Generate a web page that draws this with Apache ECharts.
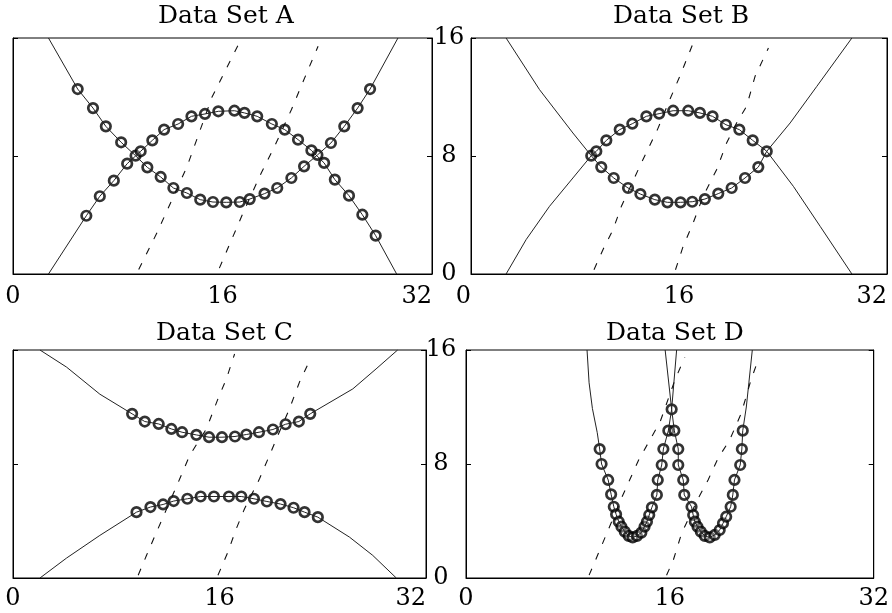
<!DOCTYPE html>
<html>
<head>
<meta charset="utf-8">
<title>Data Sets A-D</title>
<script src="https://cdn.jsdelivr.net/npm/echarts@6/dist/echarts.min.js"></script>
<style>
    html, body { margin: 0; padding: 0; background: #fff; }
    #chart { width: 892px; height: 613px; }
</style>
</head>
<body>
<div id="chart"></div>
<script>
    // axis ticks (same for all four panels)
    var xTicks = [0, 16, 32];
    var yTicks = [0, 8, 16];
    var panelTitles = ['Data Set A', 'Data Set B', 'Data Set C', 'Data Set D'];

    // Data Set A
    var aCircles1 = [[4.94, 12.54], [6.11, 11.25], [7.09, 10.01], [8.26, 8.93], [9.36, 8.02], [10.26, 7.23], [11.28, 6.58],
        [12.25, 5.83], [13.28, 5.49], [14.30, 5.04], [15.27, 4.88], [16.29, 4.86], [17.32, 4.88], [18.08, 5.08],
        [19.21, 5.45], [20.18, 5.83], [21.26, 6.51], [22.23, 7.30], [23.25, 8.07], [24.28, 8.88], [25.30, 10.01],
        [26.32, 11.25], [27.27, 12.54]];
    var aCircles2 = [[5.60, 3.95], [6.63, 5.27], [7.70, 6.33], [8.72, 7.48], [9.75, 8.32], [10.64, 9.06], [11.54, 9.79],
        [12.61, 10.17], [13.63, 10.69], [14.66, 10.85], [15.68, 11.03], [16.91, 11.07], [17.68, 10.92], [18.65, 10.69],
        [19.77, 10.17], [20.75, 9.79], [21.77, 9.11], [22.79, 8.38], [23.76, 7.53], [24.58, 6.40], [25.66, 5.31],
        [26.68, 4.02], [27.70, 2.60]];
    var aLine1Start = [[2.71, 16]];
    var aLine1End = [[29.4, 16]];
    var aLine2Start = [[2.71, 0]];
    var aLine2End = [[29.3, 0]];
    var aDash1 = [[9.6, 0.3], [11.0, 2.8], [13.3, 7.3], [15.2, 12.0], [17.3, 15.7]];
    var aDash2 = [[15.76, 0.4], [17.68, 4.36], [18.96, 6.85], [19.98, 8.66], [21.26, 11.14], [22.54, 13.86], [23.3, 15.44]];

    // Data Set B
    var bCirclesUp = [[9.25, 8.02], [9.64, 8.32], [10.41, 9.06], [11.44, 9.79], [12.41, 10.19], [13.49, 10.69], [14.47, 10.87],
        [15.55, 11.07], [16.71, 11.07], [17.61, 10.92], [18.58, 10.69], [19.61, 10.12], [20.64, 9.79], [21.67, 9.06],
        [22.75, 8.32]];
    var bCirclesLow = [[10.02, 7.25], [10.98, 6.51], [12.08, 5.83], [13.03, 5.42], [14.14, 5.04], [15.11, 4.86], [16.12, 4.86],
        [17.02, 4.90], [17.99, 5.08], [19.02, 5.45], [20.05, 5.83], [21.08, 6.51], [22.10, 7.25]];
    var bOuterTopLeft = [[2.70, 16], [5.27, 12.5], [7.84, 9.56], [9.25, 8.02]];
    var bOuterBottomLeft = [[2.70, 0], [4.24, 2.33], [6.04, 4.59], [7.84, 6.51], [9.25, 8.02]];
    var bOuterTopRight = [[22.75, 8.32], [24.55, 10.24], [26.6, 12.72], [29.3, 16]];
    var bOuterBottomRight = [[22.75, 8.32], [24.8, 5.94], [26.86, 3.23], [29.3, 0]];
    var bDash1 = [[9.46, 0.29], [10.15, 1.65], [10.92, 3.0], [11.57, 4.59], [12.98, 7.30], [14.39, 9.89], [15.29, 11.82],
        [16.06, 13.4], [17.09, 15.66]];
    var bDash2 = [[15.73, 0.29], [16.32, 1.88], [17.09, 3.46], [17.86, 5.27], [18.89, 7.07], [19.66, 8.88], [20.43, 10.24],
        [21.2, 11.37], [21.85, 13.4], [22.88, 15.32]];

    // Data Set C
    var cCirclesUp = [[9.23, 11.52], [10.21, 10.98], [11.29, 10.81], [12.27, 10.46], [13.10, 10.23], [14.21, 10.04], [15.19, 9.88],
        [16.19, 9.88], [17.20, 9.93], [18.08, 10.07], [19.06, 10.23], [20.14, 10.42], [21.12, 10.79], [22.15, 10.98],
        [23.03, 11.52]];
    var cCirclesLow = [[9.57, 4.62], [10.65, 4.98], [11.63, 5.16], [12.45, 5.40], [13.51, 5.56], [14.54, 5.72], [15.57, 5.72],
        [16.73, 5.72], [17.69, 5.72], [18.67, 5.56], [19.67, 5.37], [20.73, 5.19], [21.74, 4.93], [22.59, 4.62],
        [23.62, 4.27]];
    var cUpStart = [[2.09, 16], [4.15, 14.8], [6.73, 12.9]];
    var cUpEnd = [[26.33, 13.27], [28.13, 14.67], [29.8, 16]];
    var cLowStart = [[2.09, 0], [4.15, 1.4], [6.73, 2.99]];
    var cLowEnd = [[26.07, 2.87], [27.87, 1.59], [29.7, 0]];
    var cDash1 = [[9.70, 0.19], [10.34, 1.58], [11.12, 3.22], [12.92, 6.96], [13.69, 8.6], [14.98, 10.46], [15.88, 12.57],
        [16.53, 13.97], [17.17, 15.72]];
    var cDash2 = [[15.88, 0.19], [16.65, 1.82], [17.30, 3.46], [17.94, 4.86], [19.10, 6.96], [19.87, 8.60], [20.52, 10.0],
        [21.42, 11.87], [22.19, 13.73], [23.1, 15.49]];

    // Data Set D
    var dCirclesLeft = [[10.49, 9.05], [10.64, 8.00], [11.16, 6.88], [11.39, 5.87], [11.60, 5.00], [11.78, 4.47], [11.99, 3.95],
        [12.20, 3.60], [12.46, 3.25], [12.77, 2.95], [13.08, 2.85], [13.42, 2.95], [13.76, 3.18], [14.01, 3.60],
        [14.20, 3.95], [14.38, 4.42], [14.59, 4.96], [14.98, 5.83], [15.05, 6.88], [15.36, 7.93], [15.49, 9.05],
        [15.88, 10.34]];
    var dPeak = [[16.14, 11.84]];
    var dCirclesRight = [[16.35, 10.34], [16.66, 9.05], [16.66, 7.93], [17.05, 6.88], [17.13, 5.83], [17.70, 5.00], [17.83, 4.42],
        [17.96, 3.95], [18.17, 3.60], [18.43, 3.25], [18.74, 2.95], [19.13, 2.85], [19.52, 3.02], [19.91, 3.37],
        [20.17, 3.84], [20.42, 4.30], [20.77, 5.00], [20.94, 5.83], [21.07, 6.88], [21.52, 7.93], [21.65, 9.05],
        [21.72, 10.34]];
    var dLine1Start = [[9.5, 16], [9.66, 13.7], [9.92, 11.9], [10.3, 10.2]];
    var dLine1Top = [[15.63, 16]];
    var dLine2Top = [[16.53, 16]];
    var dLine2End = [[22.0, 12.0], [22.2, 13.7], [22.47, 16]];
    var dDash1 = [[9.66, 0.2], [10.17, 1.26], [12.25, 5.7], [13.55, 8.28], [15.24, 10.97], [16.4, 13.9], [17.17, 15.5]];
    var dDash2 = [[15.74, 0.19], [16.27, 1.26], [16.92, 3.13], [18.22, 5.59], [19.0, 6.88], [19.78, 8.4], [20.69, 9.68],
        [21.6, 11.55], [22.37, 13.9], [23.0, 15.49]];

    var font = 'DejaVu Serif';

    var panels = [
        {
            solids: [aLine1Start.concat(aCircles1, aLine1End), aLine2Start.concat(aCircles2, aLine2End)],
            dashes: [aDash1, aDash2],
            circles: aCircles1.concat(aCircles2)
        },
        {
            solids: [bCirclesUp, [bCirclesUp[0]].concat(bCirclesLow, [bCirclesUp[bCirclesUp.length - 1]]),
                bOuterTopLeft, bOuterBottomLeft, bOuterTopRight, bOuterBottomRight],
            dashes: [bDash1, bDash2],
            circles: bCirclesUp.concat(bCirclesLow)
        },
        {
            solids: [cUpStart.concat(cCirclesUp, cUpEnd), cLowStart.concat(cCirclesLow, cLowEnd)],
            dashes: [cDash1, cDash2],
            circles: cCirclesUp.concat(cCirclesLow)
        },
        {
            solids: [dLine1Start.concat(dCirclesLeft, dPeak, dLine1Top), dLine2Top.concat(dPeak, dCirclesRight, dLine2End)],
            dashes: [dDash1, dDash2],
            circles: dCirclesLeft.concat(dPeak, dCirclesRight)
        }
    ];

    // layout of the four boxes
    var grids = [
        { left: 13, top: 38, width: 419, height: 236 },
        { left: 471, top: 38, width: 416, height: 236 },
        { left: 13, top: 350, width: 413, height: 228 },
        { left: 466, top: 350, width: 411, height: 228 }
    ];
    var titlePos = [[158, 4], [613, 4], [156, 321], [606, 321]];
    var xLabelMargin = [11, 11, 9, 9];
    var minAlign = ['center', 'right', 'center', 'center'];
    var maxAlign = ['right', 'right', 'right', 'center'];
    var yLabelMargin = [17, 0, 15, 0];

    var option = {
        animation: false,
        backgroundColor: '#fff',
        title: [],
        grid: [],
        xAxis: [],
        yAxis: [],
        series: []
    };

    panels.forEach(function (p, i) {
        option.title.push({
            text: panelTitles[i],
            left: titlePos[i][0],
            top: titlePos[i][1],
            padding: 0,
            textStyle: { fontFamily: font, fontSize: 25, fontWeight: 'normal', color: '#000' }
        });
        option.grid.push($extend(grids[i], { show: true, borderColor: '#000', borderWidth: 1, containLabel: false }));
        option.xAxis.push({
            gridIndex: i,
            type: 'value',
            min: xTicks[0],
            max: xTicks[xTicks.length - 1],
            interval: xTicks[1] - xTicks[0],
            axisLine: { show: true, onZero: false, lineStyle: { color: '#000', width: 1 } },
            axisTick: { show: false },
            splitLine: { show: false },
            axisLabel: {
                margin: xLabelMargin[i], fontSize: 24, fontFamily: font, color: '#000',
                alignMinLabel: minAlign[i], alignMaxLabel: maxAlign[i]
            }
        });
        ['left', 'right'].forEach(function (side) {
            var showLabel = side === 'right' && (i === 0 || i === 2);
            option.yAxis.push({
                gridIndex: i,
                type: 'value',
                position: side,
                min: yTicks[0],
                max: yTicks[yTicks.length - 1],
                interval: yTicks[1] - yTicks[0],
                axisLine: { show: true, onZero: false, lineStyle: { color: '#000', width: 1 } },
                axisTick: { show: true, inside: true, length: 5, lineStyle: { color: '#000' } },
                splitLine: { show: false },
                axisLabel: {
                    show: showLabel, align: 'center', margin: yLabelMargin[i],
                    fontSize: 24, fontFamily: font, color: '#000'
                }
            });
        });

        p.solids.forEach(function (d) {
            option.series.push({
                type: 'line', xAxisIndex: i, yAxisIndex: 2 * i, data: d,
                symbol: 'none', silent: true,
                lineStyle: { color: '#222', width: 1 }
            });
        });
        p.dashes.forEach(function (d) {
            option.series.push({
                type: 'line', xAxisIndex: i, yAxisIndex: 2 * i, data: d,
                symbol: 'none', silent: true,
                lineStyle: { color: '#111', width: 1.1, type: [7, 10] }
            });
        });
        option.series.push({
            type: 'scatter', xAxisIndex: i, yAxisIndex: 2 * i, data: p.circles,
            symbol: 'circle', symbolSize: 9.5, silent: true,
            itemStyle: { color: 'rgba(255,255,255,0.4)', borderColor: '#000', borderWidth: 2.7 }
        });
    });

    function $extend(a, b) {
        var r = {};
        Object.keys(a).forEach(function (k) { r[k] = a[k]; });
        Object.keys(b).forEach(function (k) { r[k] = b[k]; });
        return r;
    }

    var chart = echarts.init(document.getElementById('chart'));
    chart.setOption(option);
</script>
</body>
</html>
